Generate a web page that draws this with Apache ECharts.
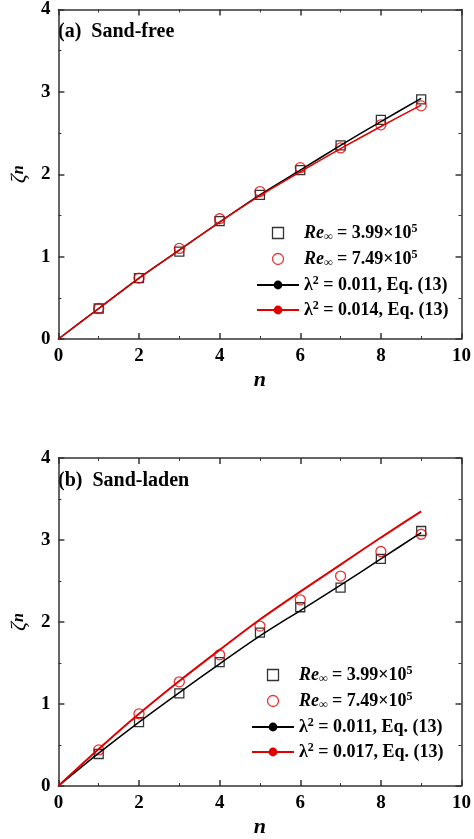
<!DOCTYPE html>
<html><head><meta charset="utf-8">
<script src="https://cdn.jsdelivr.net/npm/echarts@6/dist/echarts.min.js"></script>
<style>html,body{margin:0;background:#fff}#c{width:474px;height:839px}</style>
</head><body><div id="c"></div>
<script>
const nVals = [1, 2, 3, 4, 5, 6, 7, 8, 9];
const nLine = [0, 1, 2, 3, 4, 5, 6, 7, 8, 9];
// panel (a) sand-free
const aSquares = [0.37, 0.74, 1.06, 1.43, 1.75, 2.05, 2.35, 2.66, 2.91];
const aCircles = [0.37, 0.74, 1.10, 1.46, 1.79, 2.08, 2.32, 2.60, 2.83];
const aBlackLine = [0, 0.37, 0.74, 1.08, 1.42, 1.75, 2.05, 2.35, 2.64, 2.92];
const aRedLine = [0, 0.37, 0.74, 1.08, 1.42, 1.74, 2.03, 2.31, 2.58, 2.84];
// panel (b) sand-laden
const bSquares = [0.39, 0.78, 1.13, 1.51, 1.87, 2.18, 2.42, 2.77, 3.11];
const bCircles = [0.44, 0.88, 1.27, 1.60, 1.95, 2.27, 2.56, 2.86, 3.07];
const bBlackLine = [0, 0.40, 0.78, 1.14, 1.49, 1.83, 2.14, 2.45, 2.77, 3.09];
const bRedLine = [0, 0.45, 0.88, 1.28, 1.66, 2.03, 2.37, 2.70, 3.03, 3.35];

const font = "Liberation Serif";
const zip = (xs, ys) => xs.map((x, i) => [x, ys[i]]);

const chart = echarts.init(document.getElementById('c'));
const tops = [9, 458];
const grids = tops.map(t => ({ left: 52, right: 11, top: t, height: 330 }));

const lineStyle = { color: '#333', width: 1.5 };
const xAxes = [], yAxes = [];
[0, 1].forEach(g => {
  [false, true].forEach(sec => {
    xAxes.push({
      type: 'value', gridIndex: g, min: 0, max: 10, interval: 2,
      position: sec ? 'top' : 'bottom',
      name: sec ? '' : 'n', nameLocation: 'middle', nameGap: 30,
      nameTextStyle: { fontFamily: font, fontSize: 22, fontWeight: 'bold', fontStyle: 'italic', color: '#000' },
      axisLine: { onZero: false, lineStyle },
      axisTick: { inside: true, length: 6, lineStyle },
      minorTick: { show: true, splitNumber: 2, length: 3, lineStyle: { color: '#333' } },
      axisLabel: { show: !sec, fontFamily: font, fontSize: 19, fontWeight: 'bold', color: '#000', margin: 8 },
      splitLine: { show: false }
    });
    yAxes.push({
      type: 'value', gridIndex: g, min: 0, max: 4, interval: 1,
      position: sec ? 'right' : 'left',
      name: sec ? '' : 'ζ{s|n}', nameLocation: 'middle', nameGap: 28, nameRotate: 90,
      nameTextStyle: { fontFamily: font, fontSize: 22, fontStyle: 'italic', color: '#000',
        rich: { s: { fontFamily: font, fontSize: 16, fontStyle: 'italic', fontWeight: 'bold', color: '#000' } } },
      axisLine: { onZero: false, lineStyle },
      axisTick: { inside: true, length: 6, lineStyle },
      minorTick: { show: true, splitNumber: 2, length: 3, lineStyle: { color: '#333' } },
      axisLabel: { show: !sec, fontFamily: font, fontSize: 19, fontWeight: 'bold', color: '#000', margin: 8 },
      splitLine: { show: false }
    });
  });
});

const sq = 'path://M0,0h10v10h-10z';
const series = [];
const sets = [
  [aSquares, aCircles, aBlackLine, aRedLine],
  [bSquares, bCircles, bBlackLine, bRedLine]
];
sets.forEach((s, g) => {
  const ax = g * 2;
  series.push({ name: 'bl' + g, type: 'line', xAxisIndex: ax, yAxisIndex: ax, data: zip(nLine, s[2]), symbol: 'none', smooth: 0.3, lineStyle: { color: '#000', width: 1.5 }, itemStyle: { color: '#000' } });
  series.push({ name: 'rl' + g, type: 'line', xAxisIndex: ax, yAxisIndex: ax, data: zip(nLine, s[3]), symbol: 'none', smooth: 0.3, lineStyle: { color: '#e00000', width: g ? 2 : 1.5 }, itemStyle: { color: '#e00000' } });
  series.push({ name: 'sq' + g, type: 'scatter', xAxisIndex: ax, yAxisIndex: ax, data: zip(nVals, s[0]), symbol: sq, symbolSize: 9, itemStyle: { color: 'transparent', borderColor: '#000', borderWidth: 1.3 } });
  series.push({ name: 'ci' + g, type: 'scatter', xAxisIndex: ax, yAxisIndex: ax, data: zip(nVals, s[1]), symbol: 'circle', symbolSize: 10, itemStyle: { color: 'transparent', borderColor: '#e00000', borderWidth: 1.3 } });
});

const rich = {
  t: { fontFamily: font, fontSize: 18, fontWeight: 'bold', color: '#000' },
  i: { fontFamily: font, fontSize: 18, fontWeight: 'bold', fontStyle: 'italic', color: '#000' },
  sb: { fontFamily: font, fontSize: 12, fontStyle: 'italic', color: '#000', verticalAlign: 'bottom', padding: [6, 0, 0, 0] },
  p: { fontFamily: font, fontSize: 12, fontWeight: 'bold', color: '#000', verticalAlign: 'top', padding: [0, 0, 8, 0] }
};
const legends = [0, 1].map(g => ({
  orient: 'vertical', left: g ? 246 : 251, top: g ? 660 : 218, itemGap: 6,
  itemWidth: 42, itemHeight: 11, symbolKeepAspect: true,
  data: [
    { name: 'sq' + g, icon: sq, itemStyle: { color: 'transparent', borderColor: '#000', borderWidth: 1.3 } },
    { name: 'ci' + g, icon: 'circle', itemStyle: { color: 'transparent', borderColor: '#e00000', borderWidth: 1.3 } },
    { name: 'bl' + g }, { name: 'rl' + g }
  ],
  formatter: n => {
    if (n.startsWith('sq')) return '{i|Re}{sb|∞}{t| = 3.99×10}{p|5}';
    if (n.startsWith('ci')) return '{i|Re}{sb|∞}{t| = 7.49×10}{p|5}';
    if (n.startsWith('bl')) return '{t|λ}{p|2}{t| = 0.011, Eq. (13)}';
    return g ? '{t|λ}{p|2}{t| = 0.017, Eq. (13)}' : '{t|λ}{p|2}{t| = 0.014, Eq. (13)}';
  },
  textStyle: { rich }
}));

chart.setOption({
  animation: false,
  grid: grids, xAxis: xAxes, yAxis: yAxes, series, legend: legends,
  graphic: [
    { type: 'text', left: 58, top: 22, style: { text: '(a)  Sand-free', font: 'bold 20px "Liberation Serif"', fill: '#000' } },
    { type: 'text', left: 58, top: 471, style: { text: '(b)  Sand-laden', font: 'bold 20px "Liberation Serif"', fill: '#000' } }
  ]
});
</script></body></html>
